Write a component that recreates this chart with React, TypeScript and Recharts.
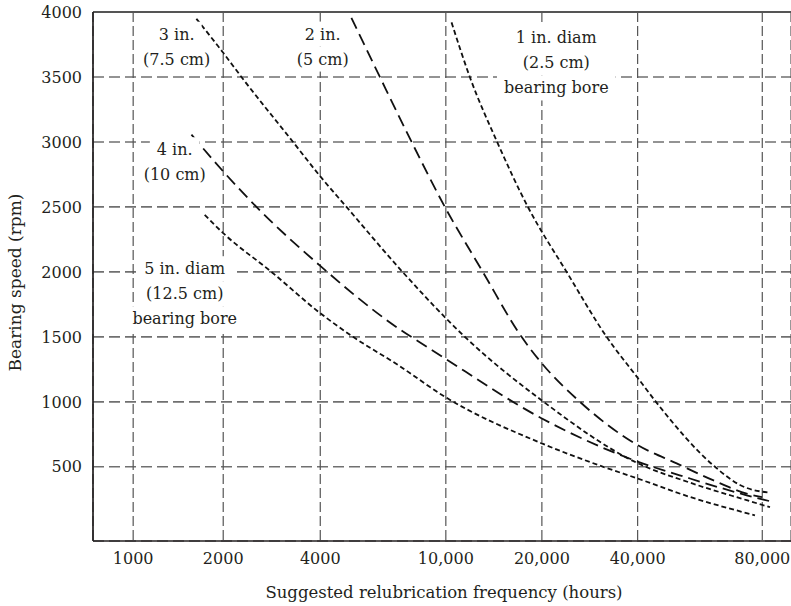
import React from 'react';
import { LineChart, Line, XAxis, YAxis, CartesianGrid, ReferenceLine, ReferenceDot } from 'recharts';

// ---- axis ticks ----
const TICK_HOURS = [1000, 2000, 4000, 10000, 20000, 40000, 80000];
const TICK_LABELS = ['1000', '2000', '4000', '10,000', '20,000', '40,000', '80,000'];
const RPM_TICKS = [500, 1000, 1500, 2000, 2500, 3000, 3500, 4000];

// ---- series (hours, rpm) ----
const HOURS_1IN = [10420, 11890, 14480, 18080, 23920, 31960, 40000, 44290, 61490, 70660, 83500];
const RPM_1IN = [3920, 3500, 3000, 2500, 2000, 1500, 1185, 1000, 500, 360, 300];

const HOURS_2IN = [5020, 6180, 7790, 9930, 13060, 17270, 20000, 26340, 40000, 49690, 60810, 73350, 79870];
const RPM_2IN = [3955, 3500, 3000, 2500, 2000, 1500, 1296, 1000, 667, 526, 397, 294, 266];

const HOURS_3IN = [1627, 2000, 2278, 3293, 4000, 4843, 7290, 11470, 20000, 40000, 53510, 73350, 83500];
const RPM_3IN = [3948, 3686, 3500, 3000, 2735, 2500, 2000, 1500, 1010, 528, 378, 243, 189];

const HOURS_4IN = [1566, 2000, 2536, 4000, 6486, 9930, 20000, 39700, 53510, 73350, 83500];
const RPM_4IN = [3056, 2773, 2500, 2046, 1630, 1335, 872, 543, 410, 281, 235];

const HOURS_5IN = [1734, 2000, 2822, 4000, 5082, 7059, 9930, 20000, 31180, 40000, 53510, 76810];
const RPM_5IN = [2439, 2298, 2000, 1682, 1500, 1283, 1039, 680, 500, 410, 268, 127];

// ---- annotations ----
const NOTE_TEXTS = [
  ['3 in.', '(7.5 cm)'],
  ['2 in.', '(5 cm)'],
  ['4 in.', '(10 cm)'],
  ['5 in. diam', '(12.5 cm)', 'bearing bore'],
  ['1 in. diam', '(2.5 cm)', 'bearing bore'],
];
const NOTE_HOURS = [1398, 4073, 1377, 1487, 22200];
const NOTE_RPM = [3733, 3734, 2844, 1832, 3608];

// relative drawn spacing between consecutive hour ticks in the original figure
const TICK_GAPS = [90, 97, 125.5, 96, 95.7, 124.6];

const FONT = '"DejaVu Serif", serif';
const FS = 16;
const LINE_H = 25;
const INK = '#231f20';

const toRows = (hs: number[], rs: number[]) => hs.map((h, i) => ({ h, rpm: rs[i] }));
const DATA_1 = toRows(HOURS_1IN, RPM_1IN);
const DATA_2 = toRows(HOURS_2IN, RPM_2IN);
const DATA_3 = toRows(HOURS_3IN, RPM_3IN);
const DATA_4 = toRows(HOURS_4IN, RPM_4IN);
const DATA_5 = toRows(HOURS_5IN, RPM_5IN);

const LOG_TICKS = TICK_HOURS.map((v) => Math.log(v));
const CUM: number[] = TICK_GAPS.reduce((acc: number[], g) => {
  acc.push(acc[acc.length - 1] + g);
  return acc;
}, [0]);

function toUnit(h: number): number {
  const lh = Math.log(h);
  let i = 0;
  while (i < LOG_TICKS.length - 2 && lh > LOG_TICKS[i + 1]) i++;
  const t = (lh - LOG_TICKS[i]) / (LOG_TICKS[i + 1] - LOG_TICKS[i]);
  return CUM[i] + t * (CUM[i + 1] - CUM[i]);
}

function createHoursScale(dom: number[] = [1000, 80000], rng: number[] = [0, 1]): any {
  let d = dom.slice();
  let r = rng.slice();
  const scale: any = (v: number) => {
    const u0 = toUnit(d[0]);
    const u1 = toUnit(d[1]);
    return r[0] + ((toUnit(Number(v)) - u0) / (u1 - u0)) * (r[1] - r[0]);
  };
  scale.domain = (nd?: any[]) => {
    if (nd === undefined) return d.slice();
    d = nd.map(Number);
    return scale;
  };
  scale.range = (nr?: any[]) => {
    if (nr === undefined) return r.slice();
    r = nr.map(Number);
    return scale;
  };
  scale.ticks = () => TICK_HOURS.slice();
  scale.copy = () => createHoursScale(d, r);
  return scale;
}

const hoursScale = createHoursScale();

let measureCtx: CanvasRenderingContext2D | null = null;
function textWidth(s: string): number {
  if (!measureCtx && typeof document !== 'undefined') {
    measureCtx = document.createElement('canvas').getContext('2d');
  }
  if (!measureCtx) return s.length * FS * 0.55;
  measureCtx.font = `${FS}px "DejaVu Serif"`;
  return measureCtx.measureText(s).width;
}

function makeNote(lines: string[]) {
  return (props: any) => {
    const { cx, cy } = props;
    const n = lines.length;
    const pad = 7;
    return (
      <g>
        {lines.map((ln, i) => {
          const y = cy + (i - (n - 1) / 2) * LINE_H;
          const w = textWidth(ln) + 2 * pad;
          return <rect key={'r' + i} x={cx - w / 2} y={y - LINE_H / 2} width={w} height={LINE_H} fill="#ffffff" />;
        })}
        {lines.map((ln, i) => {
          const y = cy + (i - (n - 1) / 2) * LINE_H;
          return (
            <text key={'t' + i} x={cx} y={y} textAnchor="middle" dominantBaseline="central" fontFamily={FONT} fontSize={FS} fill={INK}>
              {ln}
            </text>
          );
        })}
      </g>
    );
  };
}

const SHORT = '5 3';
const LONG = '12 6';

export default function App() {
  return (
    <div style={{ position: 'absolute', left: 0, top: 0, width: 791, height: 606, background: '#fff' }}>
      <LineChart width={791} height={606} margin={{ top: 12, right: 0, bottom: 0, left: 0 }}>
        <CartesianGrid vertical={false} stroke="#707070" strokeWidth={1.6} strokeDasharray="11 5" />
        <CartesianGrid horizontal={false} stroke="#555555" strokeWidth={1.2} strokeDasharray="10 4" />
        <XAxis
          type="number"
          dataKey="h"
          scale={hoursScale}
          domain={[734, 93850]}
          allowDataOverflow
          ticks={TICK_HOURS}
          interval={0}
          tickFormatter={(v: number) => TICK_LABELS[TICK_HOURS.indexOf(v)] ?? String(v)}
          height={65}
          tickLine={false}
          tickSize={6}
          tickMargin={6}
          axisLine={{ stroke: INK, strokeWidth: 1.7 }}
          tick={{ fontFamily: FONT, fontSize: FS, fill: INK }}
          label={{
            content: (p: any) => {
              const vb = p.viewBox || { x: 93, y: 541, width: 698, height: 65 };
              return (
                <text x={vb.x + vb.width / 2 + 2} y={vb.y + 51} textAnchor="middle" dominantBaseline="central" fontFamily={FONT} fontSize={16.5} fill={INK}>
                  Suggested relubrication frequency (hours)
                </text>
              );
            },
          }}
        />
        <YAxis
          type="number"
          domain={[-71, 4000]}
          allowDataOverflow
          ticks={RPM_TICKS}
          interval={0}
          width={93}
          tickLine={false}
          tickSize={6}
          tickMargin={5}
          axisLine={{ stroke: INK, strokeWidth: 1.7 }}
          tick={{ fontFamily: FONT, fontSize: FS, fill: INK }}
          label={{
            content: (p: any) => {
              const vb = p.viewBox || { x: 0, y: 12, width: 93, height: 529 };
              const cx = 15;
              const cy = vb.y + vb.height / 2 + 6;
              return (
                <text x={cx} y={cy} transform={`rotate(-90 ${cx} ${cy})`} textAnchor="middle" dominantBaseline="central" fontFamily={FONT} fontSize={17} fill={INK}>
                  Bearing speed (rpm)
                </text>
              );
            },
          }}
        />
        <ReferenceLine y={4000} stroke="#555555" strokeWidth={2} />
        <Line data={DATA_1} dataKey="rpm" type="monotone" stroke="#111" strokeWidth={1.8} strokeDasharray={SHORT} dot={false} activeDot={false} isAnimationActive={false} />
        <Line data={DATA_2} dataKey="rpm" type="monotone" stroke="#111" strokeWidth={1.8} strokeDasharray={LONG} dot={false} activeDot={false} isAnimationActive={false} />
        <Line data={DATA_3} dataKey="rpm" type="monotone" stroke="#111" strokeWidth={1.8} strokeDasharray={SHORT} dot={false} activeDot={false} isAnimationActive={false} />
        <Line data={DATA_4} dataKey="rpm" type="monotone" stroke="#111" strokeWidth={1.8} strokeDasharray={LONG} dot={false} activeDot={false} isAnimationActive={false} />
        <Line data={DATA_5} dataKey="rpm" type="monotone" stroke="#111" strokeWidth={1.8} strokeDasharray={SHORT} dot={false} activeDot={false} isAnimationActive={false} />
        {NOTE_TEXTS.map((lines, i) => (
          <ReferenceDot key={i} x={NOTE_HOURS[i]} y={NOTE_RPM[i]} r={1} shape={makeNote(lines)} />
        ))}
      </LineChart>
    </div>
  );
}
